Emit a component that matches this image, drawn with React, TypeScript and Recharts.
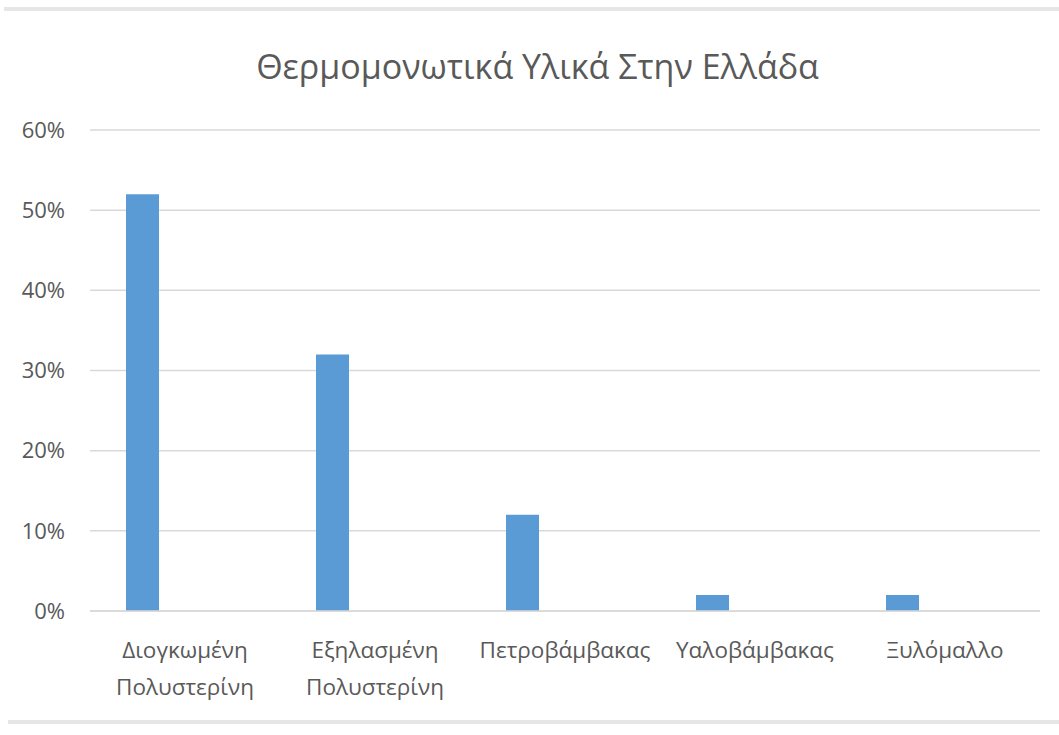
import React from 'react'
import { BarChart, Bar, XAxis, YAxis, CartesianGrid } from 'recharts'

const categories = ['Διογκωμένη\nΠολυστερίνη', 'Εξηλασμένη\nΠολυστερίνη', 'Πετροβάμβακας', 'Υαλοβάμβακας', 'Ξυλόμαλλο']
const shares = [52, 32, 12, 2, 2]
const yTicks = [0, 10, 20, 30, 40, 50, 60]

const data = categories.map((name, i) => ({ name, value: shares[i] }))

const FONT = '"Open Sans", "Noto Sans", sans-serif'
const TEXT = '#595959'

const CategoryTick = (props: any) => {
  const { x, y, payload } = props
  const lines = String(payload.value).split('\n')
  return (
    <text x={x} y={y} textAnchor="middle" fill={TEXT} fontSize={22.5} fontFamily={FONT}>
      {lines.map((line, i) => (
        <tspan key={i} x={x} dy={i === 0 ? 47 : 37}>
          {line}
        </tspan>
      ))}
    </text>
  )
}

const App = () => {
  return (
    <div style={{ position: 'absolute', left: 0, top: 0, width: 1059, height: 735, background: '#fff' }}>
      {/* thin frame lines top and bottom */}
      <div style={{ position: 'absolute', left: 4, top: 7, width: 1055, height: 4, background: '#e6e6e6' }} />
      <div style={{ position: 'absolute', left: 8, top: 720, width: 1051, height: 4, background: '#e6e6e6' }} />

      <div
        style={{
          position: 'absolute',
          left: 0,
          top: 44,
          width: 1075,
          textAlign: 'center',
          fontFamily: FONT,
          fontSize: 34,
          lineHeight: '44px',
          color: TEXT,
        }}
      >
        Θερμομονωτικά Υλικά Στην Ελλάδα
      </div>

      <div style={{ position: 'absolute', left: 0, top: 0 }}>
        <BarChart
          width={1059}
          height={735}
          data={data}
          margin={{ top: 130, right: 19, bottom: 0, left: 0 }}
          barGap={52}
          barSize={33}
        >
          <CartesianGrid vertical={false} stroke="#d9d9d9" strokeWidth={1.5} />
          <XAxis
            dataKey="name"
            height={124}
            tickLine={false}
            tickSize={0}
            tickMargin={0}
            axisLine={{ stroke: '#d9d9d9', strokeWidth: 1.5 }}
            tick={<CategoryTick />}
            interval={0}
          />
          <YAxis
            width={90}
            domain={[0, 60]}
            ticks={yTicks}
            tickFormatter={(v: number) => `${v}%`}
            axisLine={false}
            tickLine={false}
            tickSize={0}
            tickMargin={25}
            tick={{ fill: TEXT, fontSize: 22, fontFamily: FONT }}
          />
          <Bar dataKey="value" fill="#5b9bd5" isAnimationActive={false} />
          <Bar dataKey="spacer" fill="#ed7d31" isAnimationActive={false} />
        </BarChart>
      </div>
    </div>
  )
}

export default App
